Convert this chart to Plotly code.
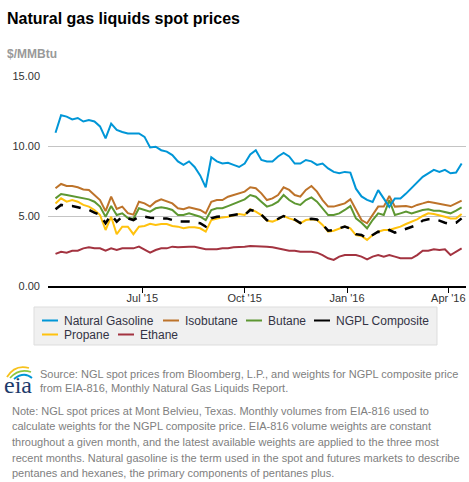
import pandas as pd
import plotly.graph_objects as go

# ---- data (5-day sampling, Apr 14 2015 - Apr 13 2016) ----
dates = pd.date_range("2015-04-14", periods=74, freq="5D")

natural_gasoline = [10.95, 12.2, 12.1, 11.9, 12.0, 11.75, 11.85, 11.75, 11.4, 10.55, 11.6, 11.15, 11.0, 10.9, 10.9, 10.9, 10.65, 9.9,
                    9.95, 9.7, 9.6, 9.35, 8.9, 8.65, 8.9, 8.5, 7.9, 7.05, 9.2, 8.9, 8.75, 8.8, 8.65, 8.5, 8.75, 9.4,
                    9.7, 9.0, 8.9, 8.9, 9.25, 9.5, 9.25, 8.75, 8.75, 9.0, 8.9, 8.65, 8.75, 8.4, 8.15, 8.05, 8.15, 8.1, 6.95,
                    6.4, 6.15, 6.0, 6.85, 6.25, 5.65, 6.25, 6.25, 6.6, 7.0, 7.35, 7.8, 8.05, 8.3, 8.15, 8.3, 8.05, 8.1, 8.75]
isobutane = [6.98, 7.29, 7.14, 7.14, 7.05, 6.9, 6.86, 6.5, 6.14, 5.35, 6.38, 5.5, 5.67, 5.2, 5.1, 6.02, 5.9, 5.67,
             6.02, 6.19, 6.02, 5.9, 5.55, 5.48, 5.62, 5.55, 5.43, 5.19, 6.02, 6.14, 6.14, 6.38, 6.5, 6.62, 6.74, 7.05,
             6.98, 6.62, 6.14, 6.26, 6.5, 7.05, 6.86, 6.5, 6.38, 6.86, 7.14, 6.74, 6.14, 5.67, 5.67, 5.79, 5.9, 6.19, 5.43,
             4.71, 4.48, 5.07, 5.67, 5.67, 6.43, 5.67, 5.67, 5.71, 5.62, 5.79, 5.9, 6.02, 5.95, 5.86, 5.79, 5.71, 5.9, 6.1]
butane = [6.26, 6.57, 6.5, 6.43, 6.33, 6.26, 6.19, 6.02, 5.67, 4.95, 5.71, 5.07, 5.19, 4.85, 4.8, 5.55, 5.43, 5.31,
          5.55, 5.62, 5.55, 5.43, 5.07, 5.07, 5.19, 5.07, 4.95, 4.71, 5.43, 5.55, 5.55, 5.71, 5.86, 6.02, 6.19, 6.5,
          6.38, 6.02, 5.67, 5.79, 6.02, 6.5, 6.14, 5.9, 5.79, 6.14, 6.33, 6.02, 5.55, 5.07, 5.07, 5.19, 5.43, 5.71, 4.83,
          4.52, 4.12, 4.71, 5.19, 5.07, 6.14, 5.07, 5.19, 5.31, 5.19, 5.31, 5.43, 5.48, 5.38, 5.38, 5.31, 5.19, 5.38, 5.62]
ngpl_composite = [5.48, 5.79, 5.71, 5.71, 5.62, 5.55, 5.43, 5.24, 5.07, 4.48, 5.07, 4.6, 4.95, 4.83, 4.71, 4.95, 4.95, 4.88,
                  4.83, 4.83, 4.83, 4.71, 4.6, 4.6, 4.6, 4.52, 4.48, 4.24, 4.83, 4.95, 4.95, 5.0, 5.07, 5.14, 5.07, 5.43,
                  5.33, 5.1, 4.7, 4.65, 4.8, 5.0, 4.85, 4.75, 4.5, 4.75, 4.8, 4.75, 4.4, 3.95, 4.0, 4.15, 4.25, 4.1, 3.7,
                  3.64, 3.4, 3.64, 3.88, 3.81, 4.0, 3.81, 3.95, 4.05, 4.24, 4.36, 4.67, 4.76, 4.76, 4.67, 4.52, 4.43, 4.52, 4.83]
propane = [5.9, 6.26, 6.02, 6.14, 6.02, 5.79, 5.67, 5.43, 5.07, 4.0, 4.95, 3.7, 4.24, 4.24, 3.7, 4.24, 4.29, 4.45,
           4.36, 4.43, 4.43, 4.29, 4.24, 4.12, 4.19, 4.19, 4.12, 3.88, 4.71, 4.83, 4.9, 4.95, 5.07, 5.14, 5.07, 5.48,
           5.31, 5.07, 4.67, 4.6, 4.76, 5.0, 4.83, 4.71, 4.48, 4.71, 4.76, 4.71, 4.36, 3.88, 3.95, 4.12, 4.24, 4.12, 3.64,
           3.57, 3.29, 3.64, 3.88, 4.0, 4.0, 4.12, 4.24, 4.43, 4.6, 4.76, 5.0, 5.19, 5.14, 5.07, 4.95, 4.83, 4.83, 5.14]
ethane = [2.29, 2.45, 2.38, 2.52, 2.52, 2.69, 2.76, 2.69, 2.69, 2.52, 2.69, 2.57, 2.69, 2.69, 2.69, 2.81, 2.62, 2.38,
          2.57, 2.69, 2.69, 2.81, 2.76, 2.81, 2.81, 2.81, 2.69, 2.62, 2.62, 2.62, 2.69, 2.69, 2.76, 2.76, 2.81, 2.86,
          2.86, 2.81, 2.81, 2.76, 2.69, 2.57, 2.52, 2.52, 2.45, 2.45, 2.45, 2.38, 2.21, 1.98, 1.86, 2.1, 2.21, 2.21, 2.21,
          2.1, 1.9, 2.1, 2.21, 2.1, 2.21, 2.1, 1.98, 1.98, 1.98, 2.21, 2.52, 2.52, 2.62, 2.57, 2.62, 2.21, 2.45, 2.69]

series_names = ["Natural Gasoline", "Isobutane", "Butane", "NGPL Composite", "Propane", "Ethane"]
x_tick_vals = ["2015-07-01", "2015-10-01", "2016-01-01", "2016-04-01"]
x_tick_text = ["Jul '15", "Oct '15", "Jan '16", "Apr '16"]
y_tick_vals = [0, 5, 10, 15]

colors = {"Natural Gasoline": "#0096d7", "Isobutane": "#bd732a", "Butane": "#5d9732",
          "NGPL Composite": "#000000", "Propane": "#ffc20e", "Ethane": "#a33340"}

W, H = 469, 482
L, R, T, B = 48, 3, 76, 196
PW, PH = W - L - R, H - T - B

def px(x):
    return (x - L) / PW

def py(y):
    return (H - B - y) / PH

FONT = "Liberation Sans, Arial, sans-serif"

fig = go.Figure()
values = {"Natural Gasoline": natural_gasoline, "Isobutane": isobutane, "Butane": butane,
          "NGPL Composite": ngpl_composite, "Propane": propane, "Ethane": ethane}
draw_order = ["Ethane", "Propane", "Butane", "Isobutane", "NGPL Composite", "Natural Gasoline"]
for name in draw_order:
    fig.add_trace(go.Scatter(
        x=dates, y=values[name], mode="lines", name=name,
        line=dict(color=colors[name], width=2.5 if name == "NGPL Composite" else 2,
                  dash="dash" if name == "NGPL Composite" else "solid"),
        showlegend=False))

shapes = []
annotations = []

# custom legend box
shapes.append(dict(type="rect", xref="paper", yref="paper", x0=px(34), x1=px(437), y0=py(345), y1=py(307),
                   fillcolor="#f0f0f0", line=dict(color="#dddddd", width=1), layer="below"))
legend_items = [("Natural Gasoline", 42, 320.5), ("Isobutane", 163, 320.5), ("Butane", 246, 320.5),
                ("NGPL Composite", 314, 320.5), ("Propane", 42, 334.5), ("Ethane", 118, 334.5)]
for name, x0, yc in legend_items:
    shapes.append(dict(type="line", xref="paper", yref="paper", x0=px(x0), x1=px(x0 + 16),
                       y0=py(yc), y1=py(yc), line=dict(color=colors[name], width=2)))
    annotations.append(dict(xref="paper", yref="paper", x=px(x0 + 20), y=py(yc), text=name,
                            showarrow=False, xanchor="left", yanchor="middle",
                            font=dict(family=FONT, size=12, color="#333344")))

# title and unit
annotations.append(dict(xref="paper", yref="paper", x=px(5), y=py(18), text="<b>Natural gas liquids spot prices</b>",
                        showarrow=False, xanchor="left", yanchor="middle",
                        font=dict(family=FONT, size=16, color="#000000")))
annotations.append(dict(xref="paper", yref="paper", x=px(5), y=py(54), text="<b>$/MMBtu</b>",
                        showarrow=False, xanchor="left", yanchor="middle",
                        font=dict(family=FONT, size=12, color="#999999")))

# footer: eia logo
annotations.append(dict(xref="paper", yref="paper", x=px(2), y=py(385), text="eia",
                        showarrow=False, xanchor="left", yanchor="middle",
                        font=dict(family="Liberation Serif, DejaVu Serif, serif", size=24, color="#1d3b6b")))
for col, (a, b, c) in [("#f7c21c", ((7, 377), (15, 364), (29, 368))),
                       ("#8dc63f", ((10, 378), (19, 368), (31, 372))),
                       ("#0096d7", ((14, 379), (24, 371), (32, 378)))]:
    path = "M %f %f Q %f %f %f %f" % (px(a[0]), py(a[1]), px(b[0]), py(b[1]), px(c[0]), py(c[1]))
    shapes.append(dict(type="path", xref="paper", yref="paper", path=path, line=dict(color=col, width=1.8)))

source_lines = ["Source: NGL spot prices from Bloomberg, L.P., and weights for NGPL composite price",
                "from EIA-816, Monthly Natural Gas Liquids Report."]
for i, t in enumerate(source_lines):
    annotations.append(dict(xref="paper", yref="paper", x=px(38), y=py(374 + 14 * i), text=t,
                            showarrow=False, xanchor="left", yanchor="middle",
                            font=dict(family=FONT, size=11, color="#808080")))
note_lines = ["Note: NGL spot prices at Mont Belvieu, Texas. Monthly volumes from EIA-816 used to",
              "calculate weights for the NGPL composite price. EIA-816 volume weights are constant",
              "throughout a given month, and the latest available weights are applied to the three most",
              "recent months. Natural gasoline is the term used in the spot and futures markets to describe",
              "pentanes and hexanes, the primary components of pentanes plus."]
for i, t in enumerate(note_lines):
    annotations.append(dict(xref="paper", yref="paper", x=px(10), y=py(411 + 15.5 * i), text=t,
                            showarrow=False, xanchor="left", yanchor="middle",
                            font=dict(family=FONT, size=11, color="#808080")))

fig.update_layout(
    width=W, height=H,
    margin=dict(l=L, r=R, t=T, b=B, pad=0),
    paper_bgcolor="white", plot_bgcolor="white",
    font=dict(family=FONT, size=11, color="#333333"),
    shapes=shapes, annotations=annotations,
    showlegend=False,
    xaxis=dict(type="date", range=["2015-04-07 06:00", "2016-04-16 22:00"],
               tickvals=x_tick_vals, ticktext=x_tick_text,
               showgrid=False, zeroline=False, showline=True, linecolor="#000000", linewidth=1.5,
               ticks="outside", ticklen=5, tickcolor="#000000", tickwidth=1, ticklabelstandoff=-4,
               tickfont=dict(family=FONT, size=11, color="#333333")),
    yaxis=dict(range=[0, 15], tickvals=y_tick_vals, tickformat=".2f",
               showgrid=True, gridcolor="#c4c4c4", gridwidth=1, zeroline=False, showline=False,
               ticks="", ticklabelstandoff=7,
               tickfont=dict(family=FONT, size=11, color="#333333")),
)

fig.write_html("out.html", config={"displayModeBar": False},
               post_script="document.body.style.margin='0';document.body.style.overflow='hidden';")
